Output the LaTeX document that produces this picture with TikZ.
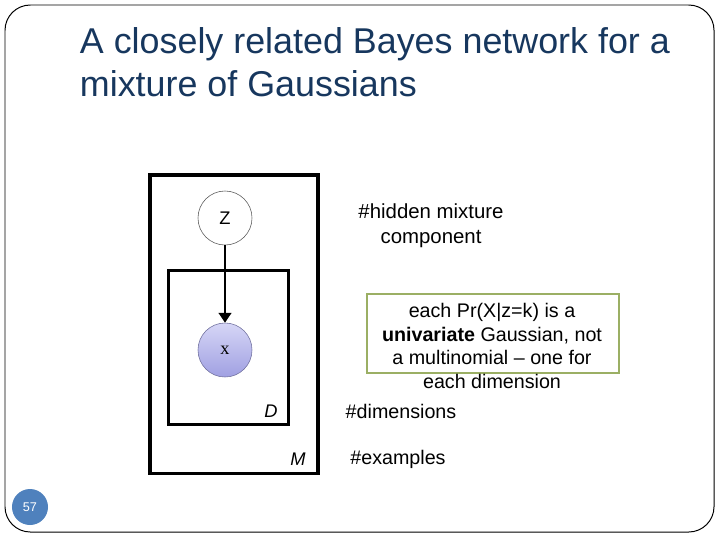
\documentclass[tikz,border=0pt]{standalone}
\usepackage{fontspec}
\setmainfont{Liberation Sans}
\newfontfamily\serifx{Liberation Serif}
\usetikzlibrary{arrows.meta}
\definecolor{titleblue}{RGB}{23,55,94}
\definecolor{notegreen}{RGB}{155,175,100}
\definecolor{pageblue}{RGB}{79,129,189}
\definecolor{xtop}{RGB}{214,214,246}
\definecolor{xbot}{RGB}{160,160,226}
\begin{document}
\begin{tikzpicture}[x=0.025cm,y=-0.025cm]
\useasboundingbox (0,0) rectangle (720,540);
\draw[rounded corners=18pt, line width=0.7pt] (5,5) rectangle (714,532);
\node[anchor=west, align=left, text=titleblue, font=\fontsize{25.5}{30.5}\selectfont] (title) at (75,62) {A closely related Bayes network for a\\mixture of Gaussians};
\node[draw, line width=2.2pt, minimum width=4.2cm, minimum height=7.45cm] (plateM) at (234,324) {};
\node[draw, line width=2.2pt, minimum width=3.0cm, minimum height=3.87cm] (plateD) at (228.5,347.5) {};
\node[draw, circle, fill=white, draw=gray!70!black, line width=0.4pt, minimum size=1.35cm, font=\fontsize{13}{15}\selectfont] (z) at (225,218) {Z};
\node[draw, circle, top color=xtop, bottom color=xbot, draw=xbot!70!black, line width=0.4pt, minimum size=1.35cm, font=\serifx\fontsize{13}{15}\selectfont] (x) at (225,350) {x};
\draw[-{Triangle[width=9pt,length=7pt]}, line width=1.4pt] (z) -- (x);
\node[font=\itshape\fontsize{13}{15}\selectfont] (d) at (271,411) {D};
\node[font=\itshape\fontsize{13}{15}\selectfont] (m) at (298,459) {M};
\node[align=center, font=\fontsize{14.5}{17.5}\selectfont] (hidden) at (431,226) {\#hidden mixture\\component};
\node[draw=notegreen, line width=1.2pt, minimum width=6.3cm, minimum height=1.98cm] (noteframe) at (493,333.5) {};
\node[align=center, font=\fontsize{14}{17}\selectfont] (note) at (492,346) {each Pr(X|z=k) is a\\\textbf{univariate} Gaussian, not\\a multinomial -- one for\\each dimension};
\node[font=\fontsize{14}{15}\selectfont] (dims) at (401,411) {\#dimensions};
\node[font=\fontsize{14}{15}\selectfont] (examples) at (398,459) {\#examples};
\node[circle, fill=pageblue, text=white, minimum size=0.9cm, inner sep=0pt, font=\fontsize{9}{11}\selectfont] (page) at (30,507) {57};
\end{tikzpicture}
\end{document}
